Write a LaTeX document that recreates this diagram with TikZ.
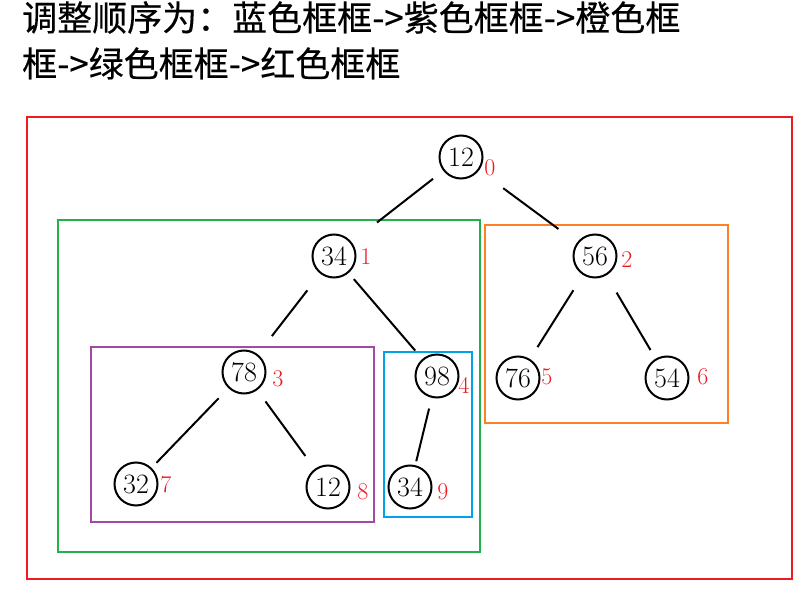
\documentclass[tikz,border=0pt]{standalone}
\usepackage{fontspec}
\newfontfamily\cjk[FakeBold=0.3]{Noto Sans CJK SC}
\usetikzlibrary{positioning}
\definecolor{framered}{RGB}{237,28,36}
\definecolor{framegreen}{RGB}{34,177,76}
\definecolor{frameorange}{RGB}{255,127,39}
\definecolor{framepurple}{RGB}{163,73,164}
\definecolor{frameblue}{RGB}{0,162,232}

\begin{document}
\begin{tikzpicture}[
    x=1pt, y=-1pt,
    heapnode/.style={circle, draw=black, line width=2pt, minimum size=43pt, inner sep=0pt, font=\fontsize{28}{28}\selectfont},
    idx/.style={text=framered, inner sep=0pt, font=\fontsize{24}{24}\selectfont},
    edge/.style={line width=2pt, black},
    frame/.style={line width=2.5pt},
]
\useasboundingbox (0,0) rectangle (804,596);

% Title
\node[anchor=north west, align=left, inner sep=0pt, font=\cjk\fontsize{35}{46}\selectfont] (title) at (22,1)
    {调整顺序为：蓝色框框->紫色框框->橙色框\\框->绿色框框->红色框框};

% Frames
\draw[frame, framered] (27,117) rectangle (792,579);
\draw[frame, framegreen] (58,220) rectangle (480,552);
\draw[frame, frameorange] (485,225) rectangle (728,423);
\draw[frame, framepurple] (91,347) rectangle (374,522);
\draw[frame, frameblue] (384,352) rectangle (472,517);

% Heap nodes
\node[heapnode] (n0) at (461,157) {12};
\node[heapnode] (n1) at (334,256) {34};
\node[heapnode] (n2) at (595,256) {56};
\node[heapnode] (n3) at (244,372) {78};
\node[heapnode] (n4) at (437,376) {98};
\node[heapnode] (n5) at (518,378) {76};
\node[heapnode] (n6) at (667,378) {54};
\node[heapnode] (n7) at (136,484) {32};
\node[heapnode] (n8) at (328,487) {12};
\node[heapnode] (n9) at (410,487) {34};

% Index labels
\node[idx] (i0) at (490,168) {0};
\node[idx] (i1) at (366,257) {1};
\node[idx] (i2) at (627,260) {2};
\node[idx] (i3) at (278,379) {3};
\node[idx] (i4) at (464,385) {4};
\node[idx] (i5) at (547,377) {5};
\node[idx] (i6) at (703,377) {6};
\node[idx] (i7) at (166,485) {7};
\node[idx] (i8) at (363,492) {8};
\node[idx] (i9) at (443,492) {9};

% Edges
\foreach \a/\b/\s/\e in {n0/n1/13/32, n0/n2/30/23, n1/n3/21/23, n1/n4/8/11,
                         n2/n5/18/14, n2/n6/20/10, n3/n7/14/7, n3/n8/14/16, n4/n9/11/4}
    \draw[edge, shorten <=\s pt, shorten >=\e pt] (\a) -- (\b);

\end{tikzpicture}
\end{document}
